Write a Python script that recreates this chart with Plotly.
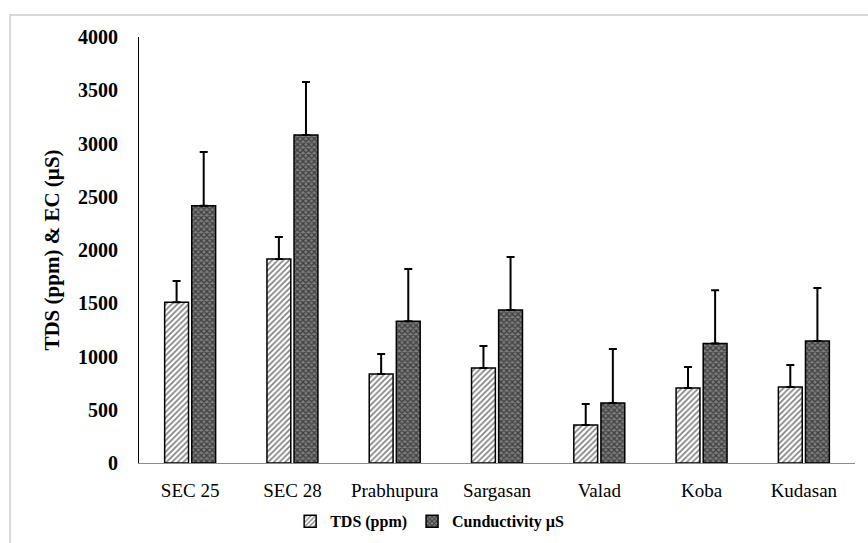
import plotly.graph_objects as go

# Sampling sites and measured means with standard deviations
sites = ["SEC 25", "SEC 28", "Prabhupura", "Sargasan", "Valad", "Koba", "Kudasan"]
tds_mean = [1510, 1915, 836, 892, 357, 704, 714]
tds_sd = [200, 207, 188, 207, 197, 197, 206]
ec_mean = [2415, 3080, 1330, 1437, 563, 1122, 1146]
ec_sd = [505, 498, 492, 497, 508, 500, 497]

y_ticks = [0, 500, 1000, 1500, 2000, 2500, 3000, 3500, 4000]

SERIF = "'Times New Roman', 'Liberation Serif', 'DejaVu Serif', serif"

fig = go.Figure()

fig.add_trace(go.Bar(
    name="TDS (ppm)",
    x=sites,
    y=tds_mean,
    marker=dict(
        color="white",
        line=dict(color="black", width=1.5),
        pattern=dict(shape="/", fgcolor="black", bgcolor="white", size=4, solidity=0.4),
    ),
    error_y=dict(type="data", array=tds_sd, arrayminus=[0] * len(sites), symmetric=False,
                 color="black", thickness=2, width=4),
))

fig.add_trace(go.Bar(
    name="Cunductivity µS",
    x=sites,
    y=ec_mean,
    marker=dict(
        color="#5e5e5e",
        line=dict(color="black", width=1.5),
        pattern=dict(shape="x", fgcolor="black", bgcolor="#7e7e7e", size=4, solidity=0.55),
    ),
    error_y=dict(type="data", array=ec_sd, arrayminus=[0] * len(sites), symmetric=False,
                 color="black", thickness=2, width=4),
))

# Light frame around the chart area
fig.add_shape(type="rect", xref="paper", yref="paper",
              x0=-0.180, x1=1.05, y0=-0.25, y1=1.0516,
              line=dict(color="#d9d9d9", width=2), fillcolor="rgba(0,0,0,0)", layer="below")

fig.update_layout(
    width=868,
    height=543,
    margin=dict(l=139, r=13, t=37, b=80, autoexpand=False),
    paper_bgcolor="white",
    plot_bgcolor="white",
    barmode="group",
    bargap=0.47,
    bargroupgap=0.12,
    font=dict(family=SERIF, color="black"),
    showlegend=True,
    legend=dict(
        orientation="h",
        xref="container", yref="container",
        x=0.495, xanchor="center",
        y=0.04, yanchor="middle",
        font=dict(family=SERIF, size=16, color="black", weight="bold"),
        itemwidth=30,
        tracegroupgap=0,
    ),
    xaxis=dict(
        showline=True,
        linecolor="#8c8c8c",
        linewidth=1,
        showgrid=False,
        zeroline=False,
        ticks="",
        ticklabelstandoff=10,
        tickfont=dict(family=SERIF, size=19, color="black"),
    ),
    yaxis=dict(
        range=[0, 4000],
        tickvals=y_ticks,
        showline=True,
        linecolor="black",
        linewidth=1,
        showgrid=False,
        zeroline=False,
        ticks="",
        ticklabelstandoff=16,
        tickfont=dict(family=SERIF, size=20, color="black", weight="bold"),
        title=dict(text="TDS (ppm) & EC (µS)", standoff=12,
                   font=dict(family=SERIF, size=21, color="black", weight="bold")),
    ),
)

fig.write_html("out.html")
